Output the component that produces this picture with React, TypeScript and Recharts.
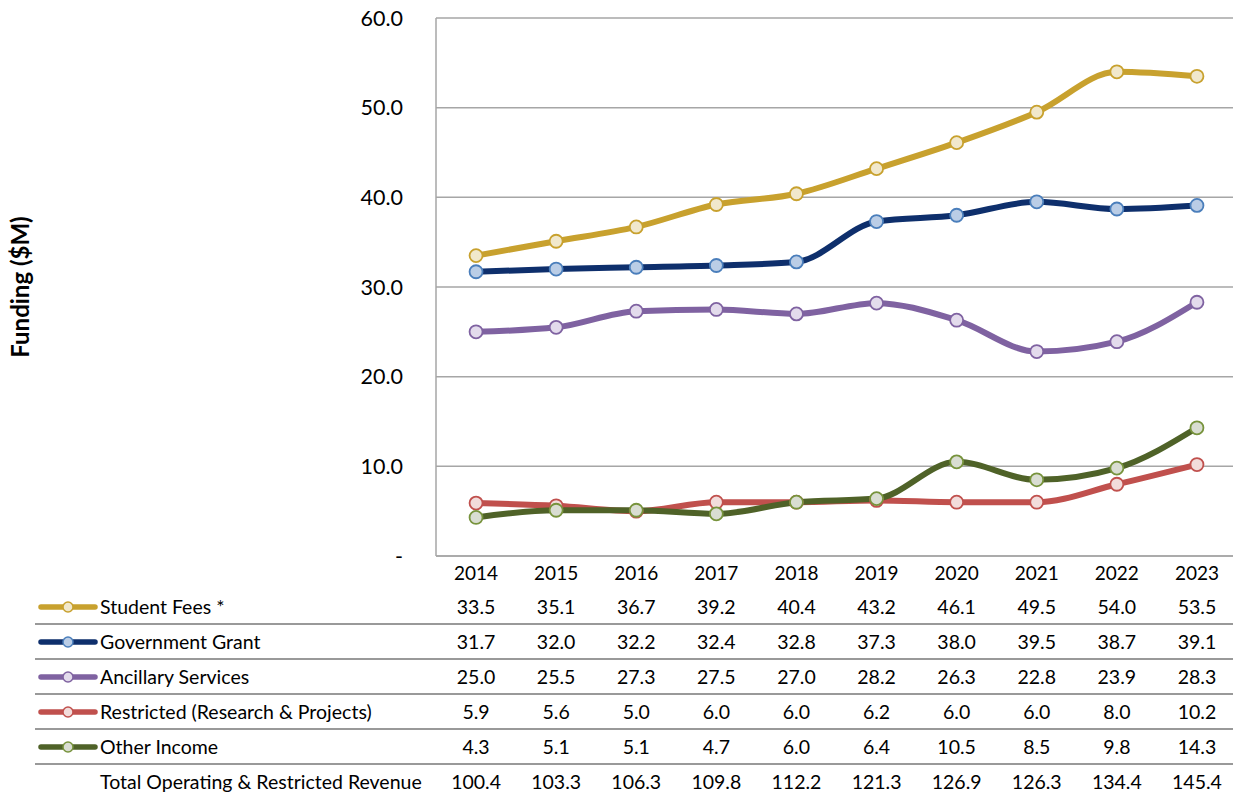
import React from "react";
import { CartesianGrid, Label, Line, LineChart, XAxis, YAxis } from "recharts";

const years = ["2014", "2015", "2016", "2017", "2018", "2019", "2020", "2021", "2022", "2023"];
const studentFees = [33.5, 35.1, 36.7, 39.2, 40.4, 43.2, 46.1, 49.5, 54.0, 53.5];
const governmentGrant = [31.7, 32.0, 32.2, 32.4, 32.8, 37.3, 38.0, 39.5, 38.7, 39.1];
const ancillaryServices = [25.0, 25.5, 27.3, 27.5, 27.0, 28.2, 26.3, 22.8, 23.9, 28.3];
const restricted = [5.9, 5.6, 5.0, 6.0, 6.0, 6.2, 6.0, 6.0, 8.0, 10.2];
const otherIncome = [4.3, 5.1, 5.1, 4.7, 6.0, 6.4, 10.5, 8.5, 9.8, 14.3];
const totalRevenue = [100.4, 103.3, 106.3, 109.8, 112.2, 121.3, 126.9, 126.3, 134.4, 145.4];
const yTicks = [0, 10, 20, 30, 40, 50, 60];

const series = [
  { key: "fees", name: "Student Fees *", values: studentFees, color: "#C8A12E", dotFill: "#F1E8CC", dotStroke: "#C8A12E" },
  { key: "grant", name: "Government Grant", values: governmentGrant, color: "#0E2F6C", dotFill: "#BACDE6", dotStroke: "#4A7EBB" },
  { key: "ancillary", name: "Ancillary Services", values: ancillaryServices, color: "#7F62A1", dotFill: "#E3DBEC", dotStroke: "#7F62A1" },
  { key: "restricted", name: "Restricted (Research & Projects)", values: restricted, color: "#C0504D", dotFill: "#F2DCDB", dotStroke: "#C0504D" },
  { key: "other", name: "Other Income", values: otherIncome, color: "#4F6228", dotFill: "#D9DDD2", dotStroke: "#77933C" }
];

const data = years.map((y, i) => {
  const row: any = { year: y };
  for (const s of series) row[s.key] = s.values[i];
  return row;
});

const FONT = "Lato, 'Open Sans', sans-serif";
const PLOT_LEFT = 436;
const PLOT_W = 801;
const BAND = PLOT_W / years.length;

function LegendMark(props: { color: string; fill: string; stroke: string }) {
  return (
    <svg width={62} height={12} style={{ position: "absolute", left: 2, top: 11 }}>
      <line x1={4} y1={6} x2={58} y2={6} stroke={props.color} strokeWidth={5.5} strokeLinecap="round" />
      <circle cx={31} cy={6} r={5} fill={props.fill} stroke={props.stroke} strokeWidth={1.5} />
    </svg>
  );
}

export default function App() {
  const rows = [
    ...series.map((s) => ({ name: s.name, values: s.values, s })),
    { name: "Total Operating & Restricted Revenue", values: totalRevenue, s: null as any }
  ];
  return (
    <div style={{ position: "absolute", left: 0, top: 0, width: 1233, height: 793, overflow: "hidden", background: "#fff", fontFamily: FONT }}>
      <LineChart width={1240} height={590} data={data} margin={{ top: 18, right: 3, left: 0, bottom: 0 }}>
        <CartesianGrid vertical={false} stroke="#A6A6A6" strokeWidth={1.5} />
        <XAxis
          dataKey="year"
          height={34}
          padding={{ left: BAND / 2, right: BAND / 2 }}
          axisLine={{ stroke: "#A6A6A6", strokeWidth: 1.5 }}
          tickLine={false}
          tickSize={0}
          tickMargin={11}
          tick={{ fill: "#000", fontSize: 19, fontFamily: FONT }}
        />
        <YAxis
          width={PLOT_LEFT}
          domain={[0, 60]}
          ticks={yTicks}
          interval={0}
          axisLine={{ stroke: "#A6A6A6", strokeWidth: 1.5 }}
          tickLine={false}
          tickSize={0}
          tickMargin={33}
          tickFormatter={(v: number) => (v === 0 ? "-   " : v.toFixed(1))}
          tick={{ fill: "#000", fontSize: 21.5, fontFamily: FONT }}
        >
          <Label
            value="Funding ($M)"
            angle={-90}
            position="insideLeft"
            offset={20}
            style={{ textAnchor: "middle", fontWeight: 700, fontSize: 24, fill: "#000", fontFamily: FONT }}
          />
        </YAxis>
        {series.map((s) => (
          <Line
            key={s.key}
            dataKey={s.key}
            name={s.name}
            type="monotone"
            stroke={s.color}
            strokeWidth={6}
            dot={{ r: 6.5, fill: s.dotFill, stroke: s.dotStroke, strokeWidth: 1.8 }}
            isAnimationActive={false}
          />
        ))}
      </LineChart>
      <div style={{ position: "absolute", left: 0, top: 590, width: 1233 }}>
        {rows.map((r, ri) => (
          <div
            key={r.name}
            style={{
              position: "relative",
              height: 35,
              marginLeft: 35,
              borderBottom: ri < rows.length - 1 ? "2px solid #999" : "none",
              boxSizing: "border-box",
              fontSize: 19.5,
              color: "#000"
            }}
          >
            {r.s ? <LegendMark color={r.s.color} fill={r.s.dotFill} stroke={r.s.dotStroke} /> : null}
            <div style={{ position: "absolute", left: 65, top: 5, whiteSpace: "nowrap" }}>{r.name}</div>
            {r.values.map((v, i) => (
              <div
                key={i}
                style={{
                  position: "absolute",
                  left: PLOT_LEFT - 35 + (i + 0.5) * BAND - 40,
                  width: 80,
                  top: 5,
                  textAlign: "center"
                }}
              >
                {v.toFixed(1)}
              </div>
            ))}
          </div>
        ))}
      </div>
    </div>
  );
}
